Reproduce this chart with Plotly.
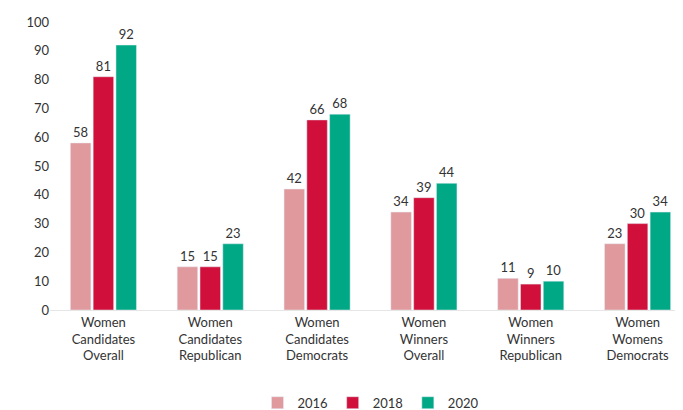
import plotly.graph_objects as go

categories = ["Women<br>Candidates<br>Overall", "Women<br>Candidates<br>Republican",
              "Women<br>Candidates<br>Democrats", "Women<br>Winners<br>Overall",
              "Women<br>Winners<br>Republican", "Women<br>Womens<br>Democrats"]
years = ["2016", "2018", "2020"]
values_2016 = [58, 15, 42, 34, 11, 23]
values_2018 = [81, 15, 66, 39, 9, 30]
values_2020 = [92, 23, 68, 44, 10, 34]
colors = ["#E0999C", "#D0103A", "#00A886"]

fig = go.Figure()
for name, vals, c in zip(years, [values_2016, values_2018, values_2020], colors):
    fig.add_trace(go.Bar(
        x=categories, y=vals, name=name, marker_color=c,
        text=vals, textposition="outside", textfont=dict(size=13, color="#333"),
        cliponaxis=False,
    ))

fig.update_layout(
    width=683, height=410,
    plot_bgcolor="white", paper_bgcolor="white",
    font=dict(family="Lato", size=13, color="#333"),
    margin=dict(l=42, r=0, t=14, b=99),
    barmode="group", bargap=0.36, bargroupgap=0.1,
    legend=dict(orientation="h", x=0.5, xanchor="center", y=-0.27, yanchor="top",
                font=dict(size=13), itemwidth=30),
    showlegend=True,
)
fig.update_yaxes(range=[0, 100], dtick=10, showgrid=False, zeroline=False,
                 ticks="", tickfont=dict(size=13))
fig.update_xaxes(showline=True, linecolor="#e6e6e6", linewidth=1, ticks="",
                 tickfont=dict(size=13))
fig.write_html("out.html")
